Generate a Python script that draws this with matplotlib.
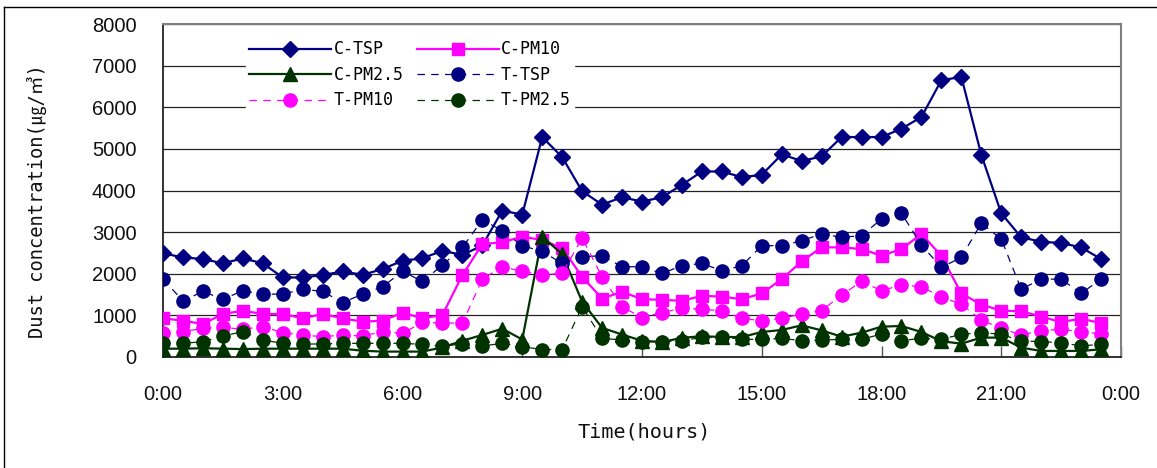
import numpy as np
import matplotlib
matplotlib.use("Agg")
import matplotlib.pyplot as plt
from matplotlib.lines import Line2D

# ---------------- data (half-hour readings, 0:00 .. 23:30) ----------------
hours = np.arange(48) * 0.5

c_tsp = [2490, 2393, 2353, 2250, 2370, 2250, 1911, 1911, 1967, 2056, 1975, 2112,
         2313, 2370, 2554, 2450, 2680, 3517, 3420, 5284, 4802, 3983, 3662, 3838,
         3734, 3838, 4135, 4457, 4457, 4320, 4376, 4866, 4710, 4818, 5284, 5284,
         5284, 5484, 5765, 6649, 6729, 4858, 3453, 2875, 2770, 2738, 2634, 2353]

c_pm10 = [929, 873, 793, 1033, 1113, 1033, 1033, 929, 1033, 929, 849, 873,
          1065, 929, 1009, 1967, 2714, 2754, 2891, 2810, 2618, 1927, 1405, 1566,
          1389, 1373, 1349, 1470, 1450, 1389, 1526, 1871, 2297, 2634, 2634, 2594,
          2433, 2594, 2955, 2433, 1526, 1260, 1113, 1100, 970, 840, 920, 815]

c_pm25 = [200, 200, 210, 200, 190, 200, 200, 200, 200, 200, 150, 130,
          130, 130, 230, 390, 530, 680, 420, 2891, 2473, 1330, 700, 540,
          390, 360, 460, 500, 480, 480, 600, 650, 760, 640, 488, 584,
          729, 745, 600, 380, 320, 466, 466, 225, 145, 145, 145, 185]

t_tsp = [1871, 1349, 1574, 1389, 1590, 1510, 1510, 1630, 1574, 1309, 1510, 1686,
         2056, 1815, 2208, 2634, 3292, 3035, 2674, 2537, 2248, 2409, 2433, 2168,
         2168, 2007, 2192, 2248, 2072, 2192, 2674, 2674, 2794, 2955, 2875, 2915,
         3316, 3453, 2690, 2152, 2393, 3212, 2835, 1630, 1871, 1871, 1526, 1871]

t_pm10 = [584, 609, 689, 713, 665, 729, 584, 528, 488, 528, 504, 609,
          568, 830, 820, 810, 1871, 2168, 2056, 1975, 2007, 2859, 1927, 1205,
          948, 1068, 1172, 1148, 1108, 929, 873, 929, 1033, 1113, 1489, 1815,
          1590, 1734, 1686, 1445, 1269, 889, 689, 528, 632, 665, 609, 552]

t_pm25 = [328, 328, 368, 505, 609, 408, 328, 312, 312, 328, 328, 328,
          328, 304, 264, 312, 264, 328, 248, 180, 180, 1209, 448, 408,
          368, 368, 392, 472, 488, 424, 424, 448, 392, 408, 424, 424,
          552, 392, 450, 425, 546, 586, 546, 385, 369, 345, 265, 305]

xtick_pos = [0, 3, 6, 9, 12, 15, 18, 21, 24]
xtick_labels = ["0:00", "3:00", "6:00", "9:00", "12:00", "15:00", "18:00", "21:00", "0:00"]
ytick_pos = [0, 1000, 2000, 3000, 4000, 5000, 6000, 7000, 8000]

# ---------------- figure ----------------
W, H = 1157, 468
fig = plt.figure(figsize=(W / 100, H / 100), dpi=100)
fig.patch.set_facecolor("white")

left, right, top, bottom = 163, 1121, 24, 357
ax = fig.add_axes([left / W, 1 - bottom / H, (right - left) / W, (bottom - top) / H])

navy = "#000080"
mag = "#FF00FF"
dgreen = "#003300"

h_ctsp, = ax.plot(hours, c_tsp, color=navy, lw=1.6, marker="D", ms=8, mec=navy, mfc=navy, zorder=3, label="C-TSP")
h_cpm10, = ax.plot(hours, c_pm10, color=mag, lw=1.6, marker="s", ms=9, mec=mag, mfc=mag, zorder=4, label="C-PM10")
h_cpm25, = ax.plot(hours, c_pm25, color=dgreen, lw=1.6, marker="^", ms=9.5, mec=dgreen, mfc=dgreen, zorder=5, label="C-PM2.5")
h_ttsp, = ax.plot(hours, t_tsp, color=navy, lw=0.9, ls=(0, (6, 5)), marker="o", ms=9.5, mec=navy, mfc=navy, zorder=6, label="T-TSP")
h_tpm10, = ax.plot(hours, t_pm10, color=mag, lw=0.9, ls=(0, (6, 5)), marker="o", ms=9.5, mec=mag, mfc=mag, zorder=7, label="T-PM10")
h_tpm25, = ax.plot(hours, t_pm25, color=dgreen, lw=0.9, ls=(0, (6, 5)), marker="o", ms=9.5, mec=dgreen, mfc=dgreen, zorder=8, label="T-PM2.5")

ax.set_xlim(0, 24)
ax.set_ylim(0, 8000)
ax.set_xticks(xtick_pos)
ax.set_xticklabels(xtick_labels)
ax.set_yticks(ytick_pos)
ax.set_yticklabels([str(v) for v in ytick_pos])

for lab in ax.get_xticklabels() + ax.get_yticklabels():
    lab.set_fontfamily("Liberation Sans")
    lab.set_fontsize(14.5)
    lab.set_color("#111111")

ax.tick_params(axis="x", direction="in", length=8, width=1, color="#555555", pad=20)
ax.tick_params(axis="y", length=0, pad=19)

ax.yaxis.grid(True, color="#222222", lw=0.9)
ax.set_axisbelow(True)

for s in ["top", "right"]:
    ax.spines[s].set_color("#808080")
    ax.spines[s].set_linewidth(1.5)
for s in ["left", "bottom"]:
    ax.spines[s].set_color("#222222")
    ax.spines[s].set_linewidth(1.3)

label_font = ["DejaVu Sans Mono", "Noto Sans CJK KR"]
fig.text(37 / W, 1 - 201 / H, "Dust concentration(㎍/㎥)", rotation=90,
         ha="center", va="center", fontsize=13.5, family=label_font, color="#111111")
fig.text(644 / W, 1 - 432 / H, "Time(hours)", ha="center", va="center",
         fontsize=14.5, family=label_font, color="#111111")

handles = [h_ctsp, h_cpm25, h_tpm10, h_cpm10, h_ttsp, h_tpm25]
labels = [h.get_label() for h in handles]
leg = fig.legend(handles, labels, ncol=2, loc="upper left",
                 bbox_to_anchor=(246 / W, 1 - 37 / H), frameon=True,
                 facecolor="white", edgecolor="white", framealpha=1,
                 prop={"family": "DejaVu Sans Mono", "size": 12},
                 handlelength=4.9, handletextpad=0.15, columnspacing=0.8,
                 labelspacing=0.45, borderpad=0.2, borderaxespad=0, fancybox=False)
leg.set_zorder(20)

# outer frame lines
fig.add_artist(Line2D([4 / W, 1], [1 - 7 / H, 1 - 7 / H], transform=fig.transFigure, color="black", lw=1))
fig.add_artist(Line2D([4 / W, 4 / W], [0, 1 - 7 / H], transform=fig.transFigure, color="black", lw=1))

fig.savefig("out.png", dpi=100)
